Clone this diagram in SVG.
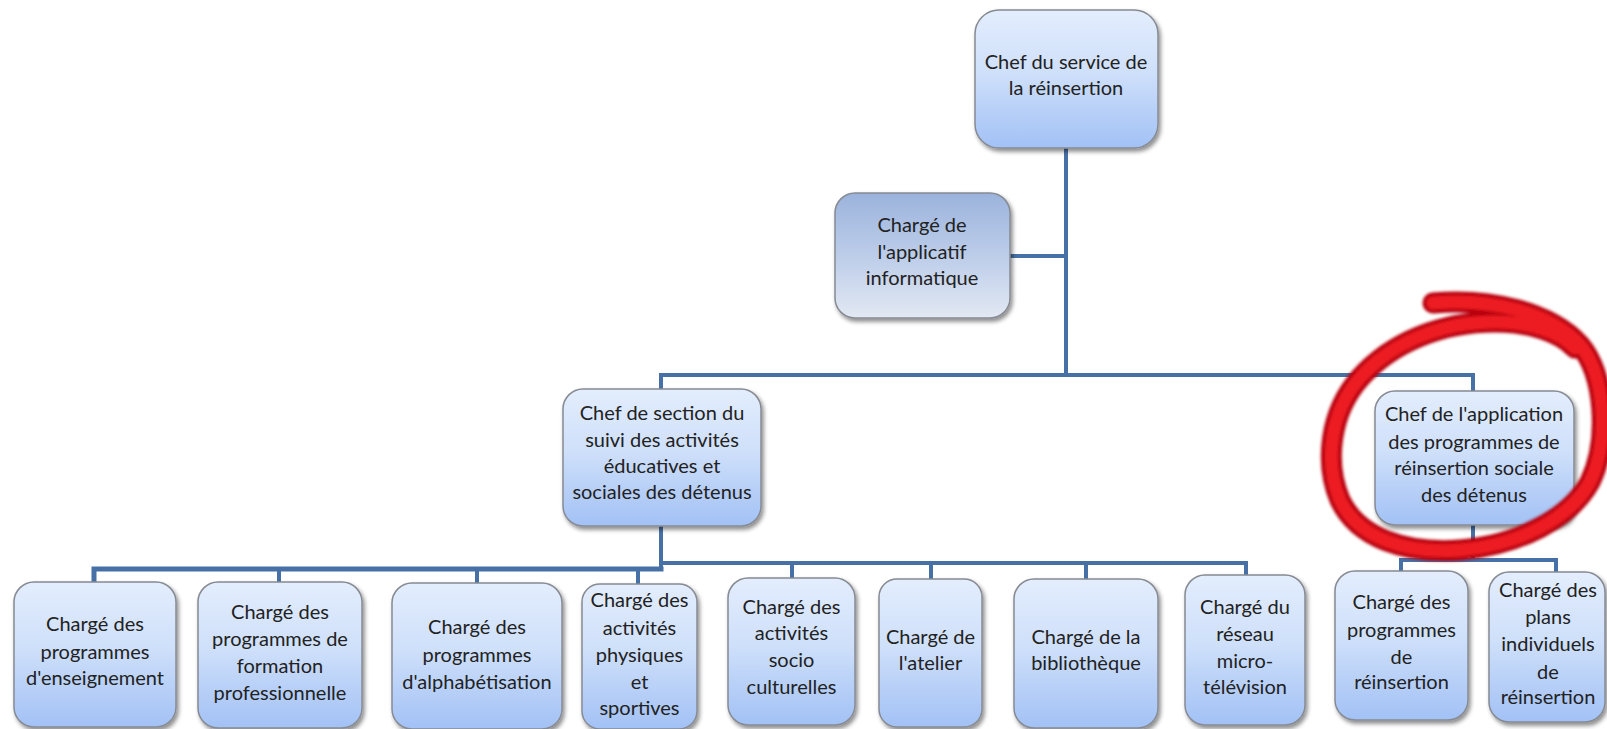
<svg xmlns="http://www.w3.org/2000/svg" width="1607" height="729" viewBox="0 0 1607 729">
  <defs>
    <linearGradient id="gBox" x1="0" y1="0" x2="0" y2="1">
      <stop offset="0" stop-color="#e3edfd"/>
      <stop offset="0.45" stop-color="#cfe0fa"/>
      <stop offset="1" stop-color="#a2c1f5"/>
    </linearGradient>
    <linearGradient id="gAlt" x1="0" y1="0" x2="0" y2="1">
      <stop offset="0" stop-color="#9bb3dc"/>
      <stop offset="0.5" stop-color="#bccde9"/>
      <stop offset="1" stop-color="#e2e8f3"/>
    </linearGradient>
    <filter id="shadow" x="-10%" y="-10%" width="125%" height="130%">
      <feDropShadow dx="2" dy="3" stdDeviation="2" flood-color="#000" flood-opacity="0.45"/>
    </filter>
    <filter id="soft" x="-10%" y="-10%" width="120%" height="120%">
      <feGaussianBlur stdDeviation="1.8"/>
    </filter>
    <style>
      .box { fill: url(#gBox); stroke: #868a92; stroke-width: 1.5; filter: url(#shadow); }
      .alt { fill: url(#gAlt); }
      .lbl { font-family: "Lato", "Liberation Sans", sans-serif; font-size: 20px; fill: #222222; text-anchor: middle; }
      .wire { fill: none; stroke: #4771a6; stroke-width: 4; stroke-linecap: square; }
      .mark { fill: none; stroke-linecap: round; stroke-linejoin: round; }
    </style>
  </defs>

  <rect width="1607" height="729" fill="#ffffff"/>

  <!-- connectors -->
  <g id="connectors" class="wire">
    <path d="M1066,148 V375"/>
    <path d="M1010,256 H1066"/>
    <path d="M661,389 V375 H1473 V391"/>
    <path d="M661,526 V569"/>
    <path d="M94,582 V569 H661" stroke-width="5"/>
    <path d="M279,569 V582"/>
    <path d="M477,569 V583"/>
    <path d="M638,569 V584"/>
    <path d="M661,563 H1246 V575"/>
    <path d="M792,563 V578"/>
    <path d="M931,563 V579"/>
    <path d="M1086,563 V579"/>
    <path d="M1473,525 V560"/>
    <path d="M1401,571 V560 H1556 V572"/>
  </g>

  <!-- nodes -->
  <g id="n-chef-service">
    <rect class="box" x="975" y="10" width="183" height="138" rx="24"/>
    <text class="lbl"><tspan x="1066" y="69">Chef du service de</tspan><tspan x="1066" y="95">la réinsertion</tspan></text>
  </g>

  <g id="n-applicatif">
    <rect class="box alt" x="835" y="193" width="175" height="125" rx="20"/>
    <text class="lbl"><tspan x="922" y="232">Chargé de</tspan><tspan x="922" y="259">l'applicatif</tspan><tspan x="922" y="285">informatique</tspan></text>
  </g>

  <g id="n-section-suivi">
    <rect class="box" x="563" y="389" width="198" height="137" rx="20"/>
    <text class="lbl"><tspan x="662" y="420">Chef de section du</tspan><tspan x="662" y="447">suivi des activités</tspan><tspan x="662" y="473">éducatives et</tspan><tspan x="662" y="499">sociales des détenus</tspan></text>
  </g>

  <g id="n-chef-application">
    <rect class="box" x="1375" y="391" width="199" height="134" rx="20"/>
    <text class="lbl"><tspan x="1474" y="421">Chef de l'application</tspan><tspan x="1474" y="449">des programmes de</tspan><tspan x="1474" y="475">réinsertion sociale</tspan><tspan x="1474" y="502">des détenus</tspan></text>
  </g>

  <g id="n-enseignement">
    <rect class="box" x="14" y="582" width="162" height="145" rx="20"/>
    <text class="lbl"><tspan x="95" y="631">Chargé des</tspan><tspan x="95" y="659">programmes</tspan><tspan x="95" y="685">d'enseignement</tspan></text>
  </g>

  <g id="n-formation">
    <rect class="box" x="198" y="582" width="164" height="146" rx="20"/>
    <text class="lbl"><tspan x="280" y="619">Chargé des</tspan><tspan x="280" y="646">programmes de</tspan><tspan x="280" y="673">formation</tspan><tspan x="280" y="700">professionnelle</tspan></text>
  </g>

  <g id="n-alphabetisation">
    <rect class="box" x="392" y="583" width="170" height="146" rx="20"/>
    <text class="lbl"><tspan x="477" y="634">Chargé des</tspan><tspan x="477" y="662">programmes</tspan><tspan x="477" y="689">d'alphabétisation</tspan></text>
  </g>

  <g id="n-physiques">
    <rect class="box" x="582" y="584" width="115" height="145" rx="18"/>
    <text class="lbl"><tspan x="639.5" y="607">Chargé des</tspan><tspan x="639.5" y="635">activités</tspan><tspan x="639.5" y="662">physiques</tspan><tspan x="639.5" y="689">et</tspan><tspan x="639.5" y="715">sportives</tspan></text>
  </g>

  <g id="n-socio">
    <rect class="box" x="728" y="578" width="127" height="147" rx="20"/>
    <text class="lbl"><tspan x="791.5" y="614">Chargé des</tspan><tspan x="791.5" y="640">activités</tspan><tspan x="791.5" y="667">socio</tspan><tspan x="791.5" y="694">culturelles</tspan></text>
  </g>

  <g id="n-atelier">
    <rect class="box" x="879" y="579" width="103" height="148" rx="18"/>
    <text class="lbl"><tspan x="930.5" y="644">Chargé de</tspan><tspan x="930.5" y="670">l'atelier</tspan></text>
  </g>

  <g id="n-bibliotheque">
    <rect class="box" x="1014" y="579" width="144" height="149" rx="20"/>
    <text class="lbl"><tspan x="1086" y="644">Chargé de la</tspan><tspan x="1086" y="670">bibliothèque</tspan></text>
  </g>

  <g id="n-micro-tv">
    <rect class="box" x="1185" y="575" width="120" height="150" rx="20"/>
    <text class="lbl"><tspan x="1245" y="614">Chargé du</tspan><tspan x="1245" y="641">réseau</tspan><tspan x="1245" y="668">micro-</tspan><tspan x="1245" y="694">télévision</tspan></text>
  </g>

  <g id="n-programmes-reinsertion">
    <rect class="box" x="1335" y="571" width="133" height="149" rx="20"/>
    <text class="lbl"><tspan x="1401.5" y="609">Chargé des</tspan><tspan x="1401.5" y="637">programmes</tspan><tspan x="1401.5" y="664">de</tspan><tspan x="1401.5" y="689">réinsertion</tspan></text>
  </g>

  <g id="n-plans-individuels">
    <rect class="box" x="1489" y="572" width="116" height="150" rx="20"/>
    <text class="lbl"><tspan x="1548" y="597">Chargé des</tspan><tspan x="1548" y="624">plans</tspan><tspan x="1548" y="651">individuels</tspan><tspan x="1548" y="679">de</tspan><tspan x="1548" y="704">réinsertion</tspan></text>
  </g>

  <!-- hand-drawn red highlight loop -->
  <g id="highlight" filter="url(#soft)">
    <path class="mark" stroke="#b8000e" stroke-width="21"
      d="M1433,303 C1490,298 1550,312 1580,345 C1605,375 1610,440 1590,482 C1570,518 1520,545 1460,550 C1405,554 1358,538 1340,500 C1324,462 1330,412 1360,378 C1392,342 1442,322 1495,322 C1530,322 1560,332 1575,348"/>
    <path class="mark" stroke="#ec1a22" stroke-width="13"
      d="M1433,303 C1490,298 1550,312 1580,345 C1605,375 1610,440 1590,482 C1570,518 1520,545 1460,550 C1405,554 1358,538 1340,500 C1324,462 1330,412 1360,378 C1392,342 1442,322 1495,322 C1530,322 1560,332 1575,348"/>
  </g>
</svg>
